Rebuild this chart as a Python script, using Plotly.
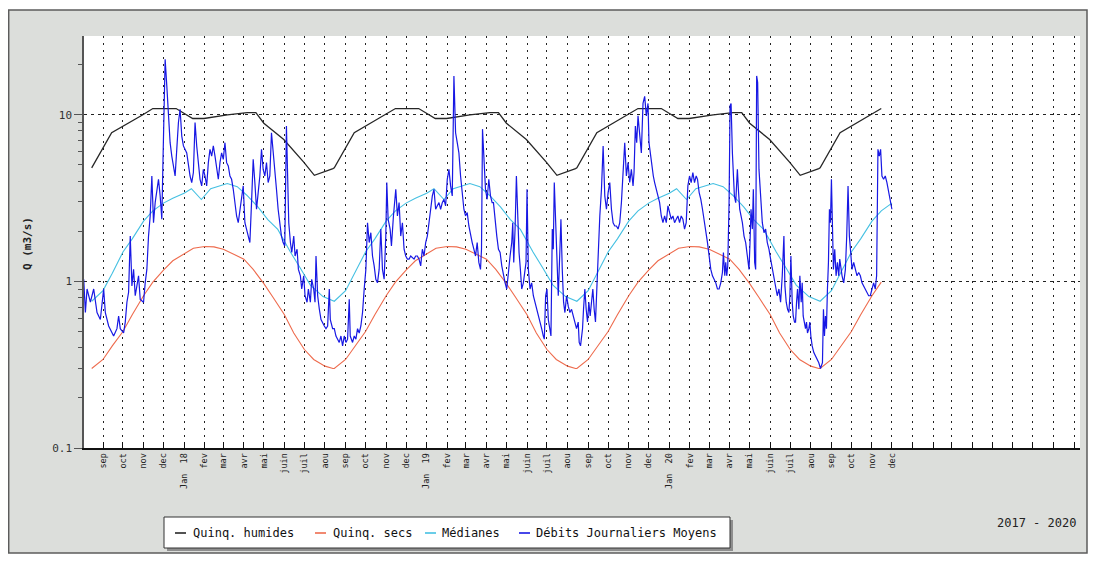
import datetime as dt
import math
import plotly.graph_objects as go

# ---------------- data ----------------
# seasonal statistics (one hydrological year, repeated each year): month-day, m3/s
hum_md = ["08-15", "09-14", "10-31", "11-15", "12-20", "01-14", "01-31", "03-07",
          "04-06", "04-19", "05-01", "05-31", "06-30", "07-16", "08-13"]
hum_q = [4.8, 7.8, 10.0, 10.9, 10.9, 9.5, 9.5, 10.0, 10.3, 10.3, 8.9, 7.1, 5.2, 4.33, 4.75]

sec_md = ["08-15", "09-01", "09-15", "10-01", "10-15", "11-01", "11-15", "12-01", "12-15",
          "01-01", "01-15", "02-01", "02-15", "03-01", "03-15", "04-01", "04-15", "05-01",
          "05-15", "06-01", "06-15", "07-01", "07-15", "08-01", "08-13"]
sec_q = [0.30, 0.34, 0.41, 0.50, 0.63, 0.82, 0.99, 1.17, 1.33, 1.47, 1.58, 1.62, 1.61,
         1.56, 1.47, 1.36, 1.18, 0.97, 0.80, 0.63, 0.49, 0.39, 0.34, 0.31, 0.30]

med_md = ["08-15", "09-01", "09-15", "10-01", "10-15", "11-01", "11-15", "12-01", "12-15",
          "01-01", "01-12", "01-27", "02-10", "02-25", "03-07", "03-22", "04-05", "04-22",
          "05-07", "05-22", "06-10", "06-25", "07-10", "07-29", "08-13"]
med_q = [0.76, 0.88, 1.12, 1.5, 1.8, 2.3, 2.65, 2.95, 3.15, 3.38, 3.6, 3.1, 3.6, 3.75,
         3.87, 3.7, 3.3, 2.8, 2.35, 2.05, 1.5, 1.2, 0.95, 0.81, 0.76]

# daily mean flows: (days after 2017-08-01, m3/s)
debits = [
    (2, 1.03), (4.5, 0.65), (7, 0.90), (12, 0.75), (17, 0.90), (22, 0.65), (27, 0.59), (32, 0.90),
    (34.5, 0.65), (39.5, 0.54), (47, 0.47), (52, 0.52), (54.5, 0.62), (57, 0.52), (62, 0.49),
    (64.5, 0.57), (67, 0.75), (69.5, 0.86), (72, 1.87), (74.5, 0.94), (77, 1.18), (79.5, 0.82),
    (82, 0.94), (84.5, 1.08), (87, 0.78), (92, 0.75), (94.5, 0.98), (97, 1.18), (99.5, 1.87),
    (102, 2.47), (104.5, 4.29), (107, 2.25), (109.5, 2.97), (112, 3.57), (114.5, 4.1), (117, 3.26),
    (119.5, 2.36), (121, 4.7), (123, 9.4), (124.5, 21.5), (127, 14.9), (129.5, 9.4), (132, 6.8),
    (134.5, 5.65), (137, 4.93), (139.5, 4.29), (142, 6.2), (144.5, 8.98), (147, 10.8), (149.5, 7.45),
    (152, 6.5), (157, 5.9), (162, 4.29), (164.5, 3.92), (167, 4.5), (169.5, 8.98), (172, 6.5),
    (174.5, 5.16), (177, 4.1), (179.5, 3.74), (182, 4.7), (184.5, 4.29), (187, 3.74), (189.5, 5.16),
    (192, 6.2), (194.5, 5.65), (197, 6.5), (199.5, 5.65), (202, 4.7), (204.5, 4.1), (207, 5.16),
    (209.5, 5.9), (212, 5.4), (214.5, 6.8), (217, 5.16), (219.5, 4.93), (222, 4.29), (224.5, 4.1),
    (227, 3.57), (229.5, 2.97), (232, 2.47), (234.5, 2.25), (237, 2.71), (239.5, 3.26), (242, 3.74),
    (244.5, 2.25), (247, 2.06), (249.5, 1.87), (252, 1.71), (254.5, 2.97), (257, 5.4), (259.5, 3.92),
    (262, 2.71), (264.5, 3.41), (267, 4.29), (269.5, 6.2), (272, 4.7), (274.5, 4.29), (277, 5.16),
    (279.5, 3.92), (282, 4.29), (284.5, 7.8), (287, 6.2), (289.5, 4.7), (292, 3.57), (294.5, 2.71),
    (297, 2.25), (299.5, 1.87), (302, 1.71), (304.5, 1.63), (307, 8.57),
    (310.5, 2.25), (313, 1.71), (315, 1.49), (318, 1.87), (320, 1.42), (323, 1.56), (325, 1.18),
    (328, 1.08), (330, 0.90), (333, 1.08), (335, 0.82), (338, 0.75), (340, 0.90), (343, 0.75),
    (345, 1.03), (348, 0.90), (350, 0.75), (351.5, 1.42), (354, 0.82), (356.5, 0.68), (359, 0.59),
    (364, 0.54), (366.5, 0.52), (369, 0.54), (371.5, 0.90), (373, 0.59), (376.5, 0.52), (379, 0.52),
    (381.5, 0.47), (384, 0.45), (386.5, 0.43), (389, 0.47), (391.5, 0.41), (394, 0.47), (396.5, 0.43),
    (399, 0.45), (401.5, 0.78), (403, 0.47), (406.5, 0.43), (409, 0.47), (411.5, 0.45), (414, 0.52),
    (416.5, 0.49), (419, 0.54), (421.5, 0.65), (424, 0.90), (426.5, 1.18), (429, 2.25), (431.5, 1.71),
    (434, 1.96), (436.5, 1.42), (439, 1.24), (441.5, 1.03), (444, 0.98), (446.5, 1.18), (449, 2.06),
    (451.5, 1.18), (454, 1.03), (456.5, 1.87), (458, 3.92), (460, 2.36), (463, 2.06), (465, 1.63),
    (468, 2.47), (471.5, 3.57), (474, 2.47), (476.5, 2.97), (479, 1.87), (481.5, 2.25), (484, 1.56),
    (486.5, 1.42), (489, 1.36), (491.5, 1.36), (494, 1.42), (499, 1.36), (501.5, 1.42), (504, 1.42),
    (506.5, 1.36), (509, 1.24), (511.5, 1.56), (514, 1.42), (516.5, 1.71), (519, 1.87), (521.5, 2.25),
    (524, 2.71), (526.5, 3.26), (529, 3.57), (531.5, 2.71), (534, 2.84), (536.5, 2.97), (539, 2.71),
    (541.5, 2.97), (544, 3.11), (546.5, 2.84), (549, 4.1), (551.5, 4.7), (554, 3.74), (556.5, 3.26),
    (559, 17.1), (561.5, 7.8), (564, 6.8), (566.5, 5.9), (569, 4.29), (571.5, 3.41), (574, 2.71),
    (576.5, 2.47), (579, 2.59), (581.5, 2.15), (584, 1.87), (586.5, 1.71), (589, 1.56), (591.5, 1.42),
    (594, 1.71), (596.5, 1.30), (599, 1.18), (600.5, 1.56), (602, 8.2), (604, 5.9), (606.5, 3.57),
    (609, 3.11), (611.5, 4.1), (614, 3.26), (616.5, 2.97),
    (618.5, 2.97), (621, 2.25), (623.5, 1.87), (626, 1.56), (628.5, 1.49), (631, 1.24), (633.5, 1.08),
    (636, 0.98), (638.5, 0.90), (641, 1.18), (643.5, 1.42), (646, 1.71), (647.5, 2.25), (649, 1.30),
    (651, 2.06), (653, 4.29), (655, 2.25), (657, 1.49), (659, 1.18), (661, 0.90), (663.5, 0.98),
    (666, 1.18), (667.5, 1.30), (669, 3.57), (671, 1.18), (673.5, 0.90), (676, 0.98), (678.5, 0.82),
    (681, 0.75), (683.5, 0.68), (686, 0.62), (688.5, 0.59), (691, 0.52), (693.5, 0.47), (695, 0.45),
    (697, 0.82), (699, 0.90), (701, 0.59), (703.5, 0.49), (705, 0.47), (707, 2.06), (708.5, 1.56),
    (710, 3.92), (712, 2.25), (714, 1.18), (716, 0.82), (718.5, 1.56), (720, 2.36), (722, 1.18),
    (724, 0.75), (726, 0.65), (728.5, 0.82), (731, 0.71), (733.5, 0.65), (736, 0.68), (738.5, 0.62),
    (741, 0.57), (743.5, 0.52), (746, 0.57), (747.5, 0.43), (749.5, 0.41), (751, 0.45), (752.5, 0.52),
    (754, 0.68), (756, 0.90), (758, 0.68), (760, 0.57), (762, 0.75), (764, 0.62), (766, 0.75),
    (768, 0.90), (770, 0.68), (772, 0.57), (774, 0.90), (776, 1.56), (778.5, 2.47), (781, 3.57),
    (783.5, 6.5), (786, 3.26), (788.5, 2.71), (791, 3.41), (793.5, 3.92), (796, 2.71), (798.5, 2.25),
    (801, 2.15), (803.5, 2.15), (806, 2.06), (808.5, 2.25), (811, 2.97), (813.5, 4.7), (816, 6.8),
    (818.5, 4.29), (821, 5.16), (823.5, 3.92), (826, 4.7), (828.5, 3.74), (830, 4.5), (832, 8.57),
    (834, 6.8), (836, 9.85), (838.5, 7.45), (841, 5.9), (843.5, 11.7), (846, 12.9), (848.5, 9.85),
    (851, 11.7), (852.5, 6.8), (855, 5.65), (857, 4.7), (859, 4.29), (861, 3.92), (863.5, 3.57),
    (866, 3.26), (868.5, 2.97), (871, 2.47), (873.5, 2.25), (876, 2.47), (878.5, 2.25), (881, 2.84),
    (883.5, 2.59), (886, 2.36), (888.5, 2.47), (891, 2.25), (893.5, 2.36), (896, 2.47), (898.5, 2.25),
    (901, 2.47), (903.5, 2.36), (906, 2.06), (908.5, 2.25), (911, 3.74), (913.5, 4.29), (916, 3.92),
    (918.5, 4.5), (921, 3.92), (923.5, 4.29),
    (925.5, 4.1), (928, 3.41), (930.5, 3.11), (933, 2.71), (935.5, 2.36), (938, 2.06), (940.5, 1.71),
    (943, 1.42), (945.5, 1.18), (948, 1.08), (950.5, 1.03), (953, 0.98), (955.5, 0.90), (958, 0.90),
    (960.5, 0.98), (963, 1.13), (964.5, 1.49), (966.5, 1.08), (968, 1.30), (969.5, 1.08), (971, 1.24),
    (973, 2.97), (974.5, 11.3), (976, 11.7), (978, 5.9), (979.5, 3.74), (981, 3.26), (983, 2.97),
    (985.5, 4.7), (987, 3.57), (989, 2.71), (991, 2.47), (993, 2.25), (995.5, 1.87), (998, 1.71),
    (1000.5, 1.42), (1003, 1.18), (1004.5, 1.71), (1006, 2.71), (1008, 2.06), (1009.5, 3.57),
    (1011.5, 1.30), (1013, 1.18), (1014.5, 17.1), (1016, 15.6), (1018, 4.7), (1019.5, 3.74),
    (1021, 2.71), (1023, 2.25), (1025.5, 1.96), (1028, 2.06), (1030.5, 1.71), (1033, 1.56),
    (1035.5, 1.36), (1038, 1.18), (1040.5, 1.03), (1043, 0.94), (1045.5, 0.82), (1048, 0.90),
    (1050.5, 0.75), (1053, 1.08), (1055.5, 1.87), (1057, 0.94), (1059, 0.75), (1061, 0.68),
    (1063, 0.65), (1064.5, 0.82), (1066, 1.42), (1068, 0.75), (1069.5, 0.62), (1071.5, 0.57),
    (1073, 0.57), (1074.5, 0.75), (1076, 0.90), (1078, 0.68), (1079.5, 1.08), (1081.5, 0.75),
    (1083, 0.98), (1084.5, 0.62), (1086.5, 0.57), (1088, 0.52), (1089.5, 0.57), (1091, 0.49),
    (1093, 0.52), (1094.5, 0.57), (1096, 0.47), (1098, 0.41), (1100.5, 0.374), (1103, 0.357),
    (1105.5, 0.34), (1108, 0.325), (1110.5, 0.30), (1112, 0.31), (1113.5, 0.325), (1115, 0.68),
    (1116.5, 0.47), (1118, 0.62), (1119.5, 0.52), (1121, 0.90), (1122.5, 1.30), (1124, 2.71),
    (1125.5, 2.25), (1127, 4.1), (1128.5, 1.87), (1130, 1.18), (1132, 1.56), (1134, 1.08),
    (1136, 1.30), (1138, 1.08), (1139.5, 1.36), (1141, 1.18), (1143, 1.08), (1145.5, 0.98),
    (1148, 1.18), (1150, 1.87), (1152, 3.74), (1154, 1.87), (1156, 1.42), (1158, 1.18),
    (1160.5, 1.30), (1163, 1.18), (1165.5, 1.08), (1168, 1.13), (1170.5, 1.08), (1173, 0.98),
    (1175.5, 0.94), (1178, 0.90), (1180.5, 0.86), (1183, 0.82), (1185.5, 0.82), (1188, 0.90),
    (1190.5, 0.98), (1193, 0.90), (1195, 1.08), (1197, 6.2), (1199, 5.65), (1201, 6.2),
    (1203, 4.29), (1205.5, 4.1), (1208, 4.29), (1210.5, 3.92), (1213, 3.41), (1215.5, 3.11),
    (1218, 2.71),
]

series_names = ["Quinq. humides", "Quinq. secs", "Médianes", "Débits Journaliers Moyens"]
series_colors = ["#262626", "#ee6b4d", "#45c0e2", "#1818e4"]

month_names = {1: "Jan", 2: "fev", 3: "mar", 4: "avr", 5: "mai", 6: "juin", 7: "juil",
               8: "aou", 9: "sep", 10: "oct", 11: "nov", 12: "dec"}
period_text = "2017 - 2020"

# ---------------- helpers ----------------
def seasonal(md, q, start, end):
    xs, ys = [], []
    for y0 in range(2017, 2021):
        for m, v in zip(md, q):
            mo, d = map(int, m.split("-"))
            yr = y0 if (mo, d) >= (8, 15) else y0 + 1
            t = dt.date(yr, mo, d)
            if start <= t <= end:
                xs.append(t)
                ys.append(v)
    return xs, ys

start = dt.date(2017, 8, 15)
hum_x, hum_y = seasonal(hum_md, hum_q, start, dt.date(2020, 11, 15))
sec_x, sec_y = seasonal(sec_md, sec_q, start, dt.date(2020, 11, 15))
med_x, med_y = seasonal(med_md, med_q, start, dt.date(2020, 12, 1))

base = dt.datetime(2017, 8, 1)
deb_x = [base + dt.timedelta(days=d) for d, _ in debits]
deb_y = [v for _, v in debits]

# month ticks
tickvals, ticktext = [], []
y, m = 2017, 9
while (y, m) <= (2021, 9):
    tickvals.append(dt.date(y, m, 1))
    if (y, m) <= (2020, 12):
        if m == 1:
            ticktext.append("Jan\u00a0\u00a0" + str(y)[2:])
        else:
            ticktext.append(month_names[m])
    else:
        ticktext.append("")
    m += 1
    if m > 12:
        m = 1
        y += 1

# page has an 8px body margin: figure pixel = screen pixel - 8
OFF = 8
W, H = 1080, 546
L, R, T, B = 84 - OFF, 1080 - OFF, 36 - OFF, 448 - OFF
def px(x):
    return (x - OFF - L) / (R - L)
def py(yv):
    return (B - (yv - OFF)) / (B - T)

MONO = "DejaVu Sans Mono"

fig = go.Figure()
for name, color, xs, ys, w in zip(series_names, series_colors,
                                   [hum_x, sec_x, med_x, deb_x],
                                   [hum_y, sec_y, med_y, deb_y],
                                   [1.3, 1.1, 1.1, 1.2]):
    fig.add_trace(go.Scatter(x=xs, y=ys, mode="lines", name=name,
                             line=dict(color=color, width=w),
                             showlegend=False, hoverinfo="skip"))

shapes = [
    # gray panel
    dict(type="rect", xref="paper", yref="paper", x0=px(8.7), x1=px(1087), y0=py(553), y1=py(10),
         fillcolor="#dcdedb", line=dict(color="#5c5c5c", width=1.5), layer="below"),
    # white plot area
    dict(type="rect", xref="paper", yref="paper", x0=0, x1=1, y0=0, y1=1,
         fillcolor="white", line=dict(width=0), layer="below"),
    # legend shadow & box
    dict(type="rect", xref="paper", yref="paper", x0=px(167), x1=px(733), y0=py(551), y1=py(520),
         fillcolor="#8e8e8e", line=dict(width=0), layer="above"),
    dict(type="rect", xref="paper", yref="paper", x0=px(164), x1=px(730), y0=py(548), y1=py(517),
         fillcolor="white", line=dict(color="#333333", width=1), layer="above"),
]
annotations = []
leg_line_x = [175, 315, 425, 519]
leg_text_x = [191, 331, 440, 534]
for name, color, lx, tx in zip(series_names, series_colors, leg_line_x, leg_text_x):
    shapes.append(dict(type="line", xref="paper", yref="paper", x0=px(lx), x1=px(lx + 11),
                       y0=py(533), y1=py(533), line=dict(color=color, width=1.6), layer="above"))
    annotations.append(dict(text=name, xref="paper", yref="paper", x=px(tx), y=py(533),
                            xanchor="left", yanchor="middle", showarrow=False,
                            font=dict(family=MONO, size=12, color="#111111")))
annotations.append(dict(text=period_text, xref="paper", yref="paper", x=px(1078), y=py(523),
                        xanchor="right", yanchor="middle", showarrow=False,
                        font=dict(family=MONO, size=12, color="#222222")))
annotations.append(dict(text="<b>Q (m3/s)</b>", xref="paper", yref="paper", x=px(27), y=py(244),
                        xanchor="center", yanchor="middle", textangle=-90, showarrow=False,
                        font=dict(family=MONO, size=11, color="#222222")))

minor_vals = [k * 0.1 for k in range(2, 10)] + list(range(2, 10)) + [20]

fig.update_layout(
    width=W, height=H,
    margin=dict(l=L, r=W - R, t=T, b=H - B),
    paper_bgcolor="white",
    plot_bgcolor="rgba(0,0,0,0)",
    shapes=shapes,
    annotations=annotations,
    showlegend=False,
    xaxis=dict(
        type="date",
        range=[dt.datetime(2017, 8, 3, 10), dt.datetime(2021, 9, 10)],
        tickmode="array", tickvals=tickvals, ticktext=ticktext,
        tickangle=-90, ticks="inside", ticklen=6, tickcolor="#111111", tickwidth=1,
        tickfont=dict(family=MONO, size=8.5, color="#222222"),
        showgrid=True, gridcolor="#222222", griddash="2px,5px", gridwidth=1,
        showline=True, linecolor="#111111", linewidth=1.5,
        zeroline=False, fixedrange=True,
    ),
    yaxis=dict(
        type="log",
        range=[-1, math.log10(29.7)],
        tickmode="array", tickvals=[0.1, 1, 10], ticktext=["0.1", "1", "10"],
        ticks="outside", ticklen=8, tickcolor="#555555", tickwidth=1,
        tickfont=dict(family=MONO, size=11, color="#333333"),
        showgrid=True, gridcolor="#222222", griddash="3px,4px", gridwidth=1,
        showline=True, linecolor="#555555", linewidth=1.5,
        minor=dict(tickmode="array", tickvals=minor_vals, ticks="outside", ticklen=4,
                   tickcolor="#555555", showgrid=False),
        zeroline=False, fixedrange=True,
    ),
)

fig.write_html("out.html")
